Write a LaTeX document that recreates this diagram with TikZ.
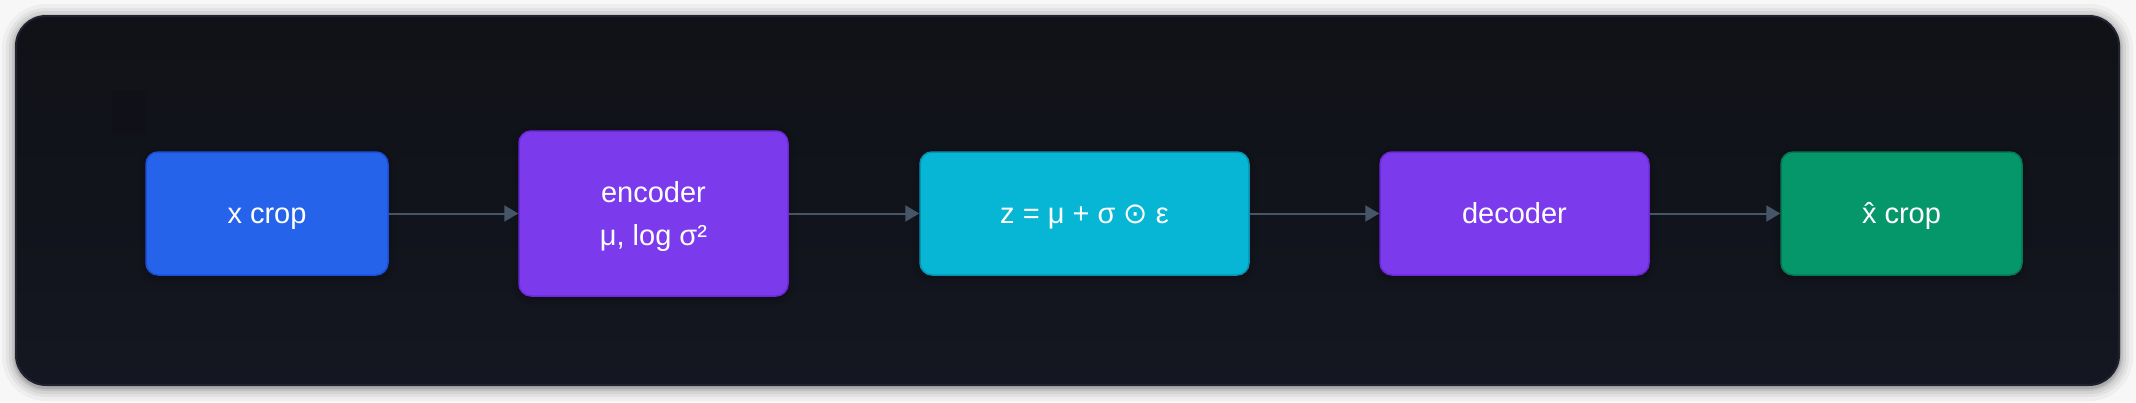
\documentclass[tikz,border=0pt]{standalone}
\usepackage{fontspec}
\setmainfont{Liberation Sans}
\newfontfamily\symfont{DejaVu Sans}
\usetikzlibrary{arrows.meta,shadows.blur}
\definecolor{pagebg}{HTML}{F7F7F8}
\definecolor{paneltop}{HTML}{101217}
\definecolor{panelbot}{HTML}{141621}
\definecolor{panelborder}{HTML}{1F2330}
\definecolor{arrowcol}{HTML}{475569}
\definecolor{bluef}{HTML}{2563EB}\definecolor{blued}{HTML}{1D4ED8}
\definecolor{purpf}{HTML}{7C3AED}\definecolor{purpd}{HTML}{6D28D9}
\definecolor{cyanf}{HTML}{06B6D4}\definecolor{cyand}{HTML}{0891B2}
\definecolor{greenf}{HTML}{059669}\definecolor{greend}{HTML}{047857}
\newcommand\lnstrut{\rule[-0.212em]{0pt}{1.117em}}
\tikzset{
  box/.style={rectangle, rounded corners=12pt, line width=1.5pt, inner sep=0pt,
    minimum height=123pt, text=white, align=center,
    font=\fontsize{29}{43}\selectfont,
    blur shadow={shadow xshift=0pt, shadow yshift=-2pt, shadow blur steps=6, shadow opacity=35, shadow blur radius=8pt}},
  conn/.style={draw=arrowcol, line width=2pt, -{Triangle[length=14pt,width=16pt]}}
}
\begin{document}
\begin{tikzpicture}[x=1pt,y=-1pt]
\fill[pagebg] (0,0) rectangle (2136,402);
\useasboundingbox (0,0) rectangle (2136,402);
% outer shadow
\foreach \i/\o in {14/3,10/4,7/5,4/7,2/9}{
  \fill[black,opacity=0.\o*0.12, rounded corners=30+\i] (16-\i,16-\i+2) rectangle (2119+\i,385+\i+2);
}
\shade[top color=paneltop, bottom color=panelbot, rounded corners=30pt] (16,16) rectangle (2119,385);
\draw[panelborder, line width=2pt, rounded corners=30pt] (16,16) rectangle (2119,385);
\fill[black, opacity=0.06] (112,90) rectangle (145,135);
\node[box, fill=bluef, draw=blued, minimum width=242pt] (xin) at (267,213.5) {\lnstrut x crop};
\node[box, fill=purpf, draw=purpd, minimum width=269pt, minimum height=165pt] (enc) at (653.5,213.5) {\lnstrut encoder\\\lnstrut μ, log σ²};
\node[box, fill=cyanf, draw=cyand, minimum width=329pt] (z) at (1084.5,213.5) {\lnstrut z = μ + σ {\symfont ⊙} ε};
\node[box, fill=purpf, draw=purpd, minimum width=269pt] (dec) at (1514.5,213.5) {\lnstrut decoder};
\node[box, fill=greenf, draw=greend, minimum width=241pt] (xout) at (1901.5,213.5) {\lnstrut x̂ crop};
\draw[conn] (xin.east) -- (enc.west);
\draw[conn] (enc.east) -- (z.west);
\draw[conn] (z.east) -- (dec.west);
\draw[conn] (dec.east) -- (xout.west);
\end{tikzpicture}
\end{document}
